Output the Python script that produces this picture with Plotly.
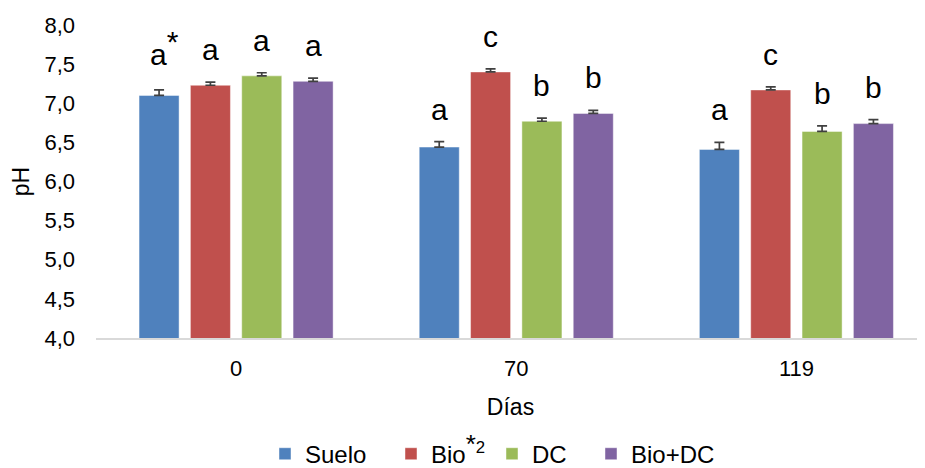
import plotly.graph_objects as go

dias = ["0", "70", "119"]
series_names = ["Suelo", "Bio<sup><span style='font-size:26px'>*</span></sup><sup>2</sup>", "DC", "Bio+DC"]
suelo = [7.10, 6.44, 6.41]
bio = [7.23, 7.40, 7.17]
dc = [7.35, 6.77, 6.64]
bio_dc = [7.28, 6.87, 6.74]
err_suelo = [0.07, 0.07, 0.09]
err_bio = [0.04, 0.04, 0.04]
err_dc = [0.04, 0.04, 0.07]
err_bio_dc = [0.04, 0.04, 0.05]
let_suelo = ["a<sup><span style='font-size:30px'>*</span></sup>", "a", "a"]
let_bio = ["a", "c", "c"]
let_dc = ["a", "b", "b"]
let_bio_dc = ["a", "b", "b"]
y_ticks = [4.0, 4.5, 5.0, 5.5, 6.0, 6.5, 7.0, 7.5, 8.0]

colors = ["#4F81BD", "#C0504D", "#9BBB59", "#8064A2"]
values = [suelo, bio, dc, bio_dc]
errors = [err_suelo, err_bio, err_dc, err_bio_dc]
letters = [let_suelo, let_bio, let_dc, let_bio_dc]

FONT = "Liberation Sans, Arial, sans-serif"

# layout geometry (page body has an 8px margin, so the figure is 8px smaller)
W, H = 917, 460
ML, MT, MR = 88, 16.5, 0
PLOT_H = 314
MB = H - MT - PLOT_H
PLOT_W = W - ML - MR
legend_left_px = [257, 383, 484, 583]  # legend entry left edges (figure px)
legend_center_y_px = 447

fig = go.Figure()
legend_ids = ["legend", "legend2", "legend3", "legend4"]
for name, vals, errs, col, lg in zip(series_names, values, errors, colors, legend_ids):
    fig.add_trace(go.Bar(
        x=dias, y=vals, name=name, legend=lg,
        marker=dict(color=col, line=dict(color="rgba(255,255,255,0.45)", width=1)),
        error_y=dict(type="data", symmetric=False, array=errs, arrayminus=[0] * len(errs),
                     color="#404040", thickness=1.7, width=5),
    ))

# letter annotations placed above the error bars
nser = len(series_names)
slot = 51.3  # px between bars in a group
for si, (vals, errs, lets) in enumerate(zip(values, errors, letters)):
    for ci, cat in enumerate(dias):
        has_sup = "sup" in lets[ci]
        fig.add_annotation(
            x=ci, y=vals[ci] + errs[ci], xref="x", yref="y",
            text=lets[ci], showarrow=False, yanchor="bottom",
            xshift=(si - (nser - 1) / 2) * slot + (5 if has_sup else 0),
            yshift=14 + (3 if has_sup else 0),
            font=dict(family=FONT, size=30, color="#000000"),
        )

legend_y = -(legend_center_y_px - (MT + PLOT_H)) / PLOT_H
legend_common = dict(orientation="h", yanchor="middle", xanchor="left", y=legend_y,
                     font=dict(family=FONT, size=24, color="#000000"),
                     itemwidth=30, bgcolor="rgba(0,0,0,0)", borderwidth=0)
legends = {}
for lg, lx in zip(legend_ids, legend_left_px):
    legends[lg] = dict(legend_common, x=(lx - ML) / PLOT_W)

fig.update_layout(
    width=W, height=H,
    margin=dict(l=ML, r=MR, t=MT, b=MB, autoexpand=False),
    paper_bgcolor="white", plot_bgcolor="white",
    barmode="group", bargap=0.267, bargroupgap=0.22,
    separators=",.",
    font=dict(family=FONT, size=22, color="#000000"),
    showlegend=True,
    **legends,
)
fig.update_xaxes(
    type="category", range=[-0.5, 2.459], automargin=False,
    showline=True, linecolor="#D9D9D9", linewidth=2,
    showgrid=False, zeroline=False, ticks="", ticklabelstandoff=10,
    tickfont=dict(family=FONT, size=22, color="#000000"),
    title=dict(text="Días", font=dict(family=FONT, size=23, color="#000000"), standoff=18),
)
fig.update_yaxes(
    range=[4, 8], tickvals=y_ticks, tickformat=".1f", automargin=False,
    showline=False, showgrid=False, zeroline=False, ticks="",
    ticklabelstandoff=20,
    tickfont=dict(family=FONT, size=22, color="#000000"),
    title=dict(text="pH", font=dict(family=FONT, size=23, color="#000000"), standoff=20),
)

fig.write_html("out.html")
